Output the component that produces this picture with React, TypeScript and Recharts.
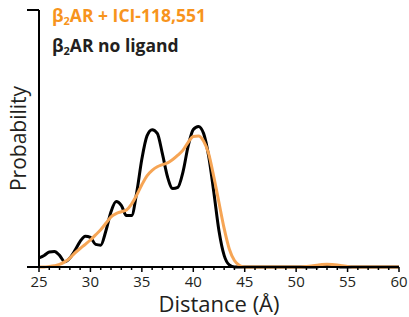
import React from 'react';
import { LineChart, Line, XAxis, YAxis } from 'recharts';

const distances = [
  25, 25.5, 26, 26.5, 27, 27.5, 28, 28.5, 29, 29.5, 30, 30.5, 31, 31.5, 32, 32.5, 33, 33.5, 34, 34.5,
  35, 35.5, 36, 36.5, 37, 37.5, 38, 38.5, 39, 39.5, 40, 40.5, 41, 41.5, 42, 42.5, 43, 43.5, 44, 44.5,
  45, 46, 47, 48, 49, 50, 51, 51.5, 52, 52.5, 53, 53.5, 54, 54.5, 55, 55.5, 56, 57, 58, 59, 60,
];

const noLigand = [
  0.035, 0.045, 0.058, 0.06, 0.045, 0.02, 0.035, 0.065, 0.1, 0.12, 0.115, 0.088, 0.085, 0.14, 0.215, 0.255, 0.24, 0.2, 0.2, 0.29,
  0.42, 0.51, 0.534, 0.52, 0.44, 0.35, 0.305, 0.31, 0.37, 0.47, 0.535, 0.547, 0.52, 0.43, 0.29, 0.14, 0.045, 0.008, 0, 0,
  0, 0, 0, 0, 0, 0, 0, 0, 0, 0.004, 0.007, 0.006, 0.002, 0, 0, 0, 0, 0, 0, 0, 0,
];

const ici = [
  0, 0, 0.002, 0.005, 0.01, 0.02, 0.035, 0.055, 0.072, 0.088, 0.105, 0.125, 0.145, 0.17, 0.195, 0.208, 0.215, 0.222, 0.245, 0.28,
  0.32, 0.355, 0.376, 0.39, 0.398, 0.405, 0.418, 0.435, 0.455, 0.485, 0.508, 0.51, 0.49, 0.44, 0.35, 0.25, 0.15, 0.07, 0.025, 0.006,
  0, 0, 0, 0, 0, 0, 0.002, 0.004, 0.007, 0.01, 0.011, 0.01, 0.008, 0.005, 0.002, 0, 0, 0, 0, 0, 0,
];

const xTicks = Array.from({ length: 36 }, (_, i) => 25 + i);
const yTicks = [0, 1];

const data = distances.map((d, i) => ({ d, noLigand: noLigand[i], ici: ici[i] }));

const font = '"Open Sans", "Noto Sans", sans-serif';
const ink = '#231F20';
const orange = '#F7941D';

const DistTick = (props: any) => {
  const { x, y, payload } = props;
  const major = payload.value % 5 === 0;
  return (
    <g>
      <line x1={x} x2={x} y1={y} y2={y + (major ? 5 : 3)} stroke="#000" strokeWidth={1.5} />
      {major && (
        <text x={x} y={y + 20} textAnchor="middle" fontSize={15} fontFamily={font} fill={ink}>
          {payload.value}
        </text>
      )}
    </g>
  );
};

export default function App() {
  return (
    <div style={{ position: 'absolute', left: 0, top: 0, width: 409, height: 317, background: '#fff' }}>
      <LineChart width={409} height={317} data={data} margin={{ top: 10, right: 10, left: 0, bottom: 0 }}>
        <XAxis
          dataKey="d"
          type="number"
          domain={[25, 60]}
          ticks={xTicks}
          interval={0}
          tickSize={0}
          tickMargin={0}
          tickLine={false}
          tick={<DistTick />}
          height={50}
          axisLine={{ stroke: '#000', strokeWidth: 2 }}
          label={{ value: 'Distance (Å)', position: 'insideBottom', offset: 5, fontSize: 22, fontFamily: font, fill: ink }}
        />
        <YAxis
          type="number"
          domain={[0, 1]}
          ticks={yTicks}
          interval="preserveStartEnd"
          tickSize={12}
          tickFormatter={() => ''}
          tickLine={{ stroke: '#000', strokeWidth: 2 }}
          width={39}
          axisLine={{ stroke: '#000', strokeWidth: 2 }}
          label={{ value: 'Probability', angle: -90, position: 'insideLeft', offset: 19, fontSize: 21, fontFamily: font, fill: ink, style: { textAnchor: 'middle' } }}
        />
        <Line type="monotone" dataKey="noLigand" stroke="#000" strokeWidth={3} dot={false} isAnimationActive={false} />
        <Line type="monotone" dataKey="ici" stroke="#F6A555" strokeWidth={3} dot={false} isAnimationActive={false} />
      </LineChart>
      <div style={{ position: 'absolute', left: 52, top: 3, fontFamily: font, fontWeight: 700, fontSize: 17.5, lineHeight: '24px', letterSpacing: 0 }}>
        <div style={{ color: orange }}>
          β<sub style={{ fontSize: 11, verticalAlign: -3 }}>2</sub>AR + ICI-118,551
        </div>
        <div style={{ color: ink }}>
          β<sub style={{ fontSize: 11, verticalAlign: -3 }}>2</sub>AR no ligand
        </div>
      </div>
    </div>
  );
}
